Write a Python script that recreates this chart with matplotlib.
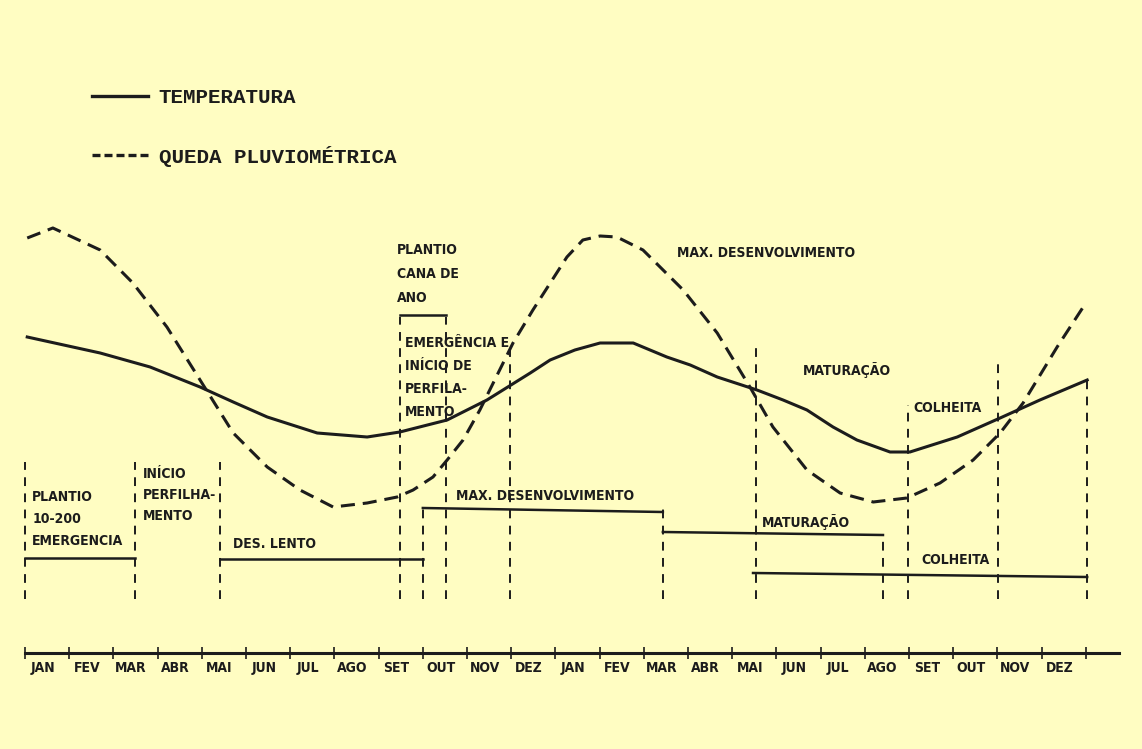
import matplotlib
matplotlib.use('Agg')
import matplotlib.pyplot as plt
from matplotlib.lines import Line2D
import numpy as np

# eixo dos meses (dois anos seguidos)
meses = ['JAN', 'FEV', 'MAR', 'ABR', 'MAI', 'JUN', 'JUL', 'AGO', 'SET', 'OUT', 'NOV', 'DEZ'] * 2

# temperatura (x em meses desde JAN, y em escala relativa)
temp_x = [0.05, 1.70, 2.83, 3.96, 4.71, 5.48, 6.61, 7.74, 8.48, 9.55, 10.45, 11.43, 11.88,
          12.44, 13.01, 13.76, 14.52, 15.05, 15.66, 16.56, 17.15, 17.69, 18.28, 18.82,
          19.57, 20.02, 21.09, 22.06, 22.96, 24.03]
temp_y = [41.2, 39.6, 38.2, 36.2, 34.7, 33.2, 31.6, 31.2, 31.7, 32.9, 34.9, 37.6, 38.9,
          39.9, 40.6, 40.6, 39.2, 38.4, 37.2, 35.9, 34.9, 33.9, 32.2, 30.9,
          29.7, 29.7, 31.2, 33.1, 34.9, 36.9]

# queda pluviometrica
chuva_x = [0.05, 0.63, 1.70, 2.44, 3.21, 3.96, 4.71, 5.48, 6.22, 6.97, 7.74, 8.42, 8.78,
           9.23, 9.55, 9.91, 10.29, 11.04, 11.49, 12.26, 12.62, 13.01, 13.39, 13.98, 14.89,
           15.66, 16.40, 16.92, 17.69, 18.44, 19.19, 19.95, 20.70, 21.45, 22.06, 22.58,
           23.35, 23.94]
chuva_y = [51.1, 52.1, 49.9, 46.6, 42.2, 36.9, 31.6, 28.2, 25.9, 24.2, 24.6, 25.2, 25.9,
           27.2, 28.9, 30.9, 33.9, 40.6, 43.9, 49.2, 50.9, 51.3, 51.2, 49.9, 45.9,
           41.6, 36.2, 32.2, 27.9, 25.6, 24.7, 25.1, 26.6, 28.9, 31.6, 34.6,
           40.2, 44.2]

# limites das fases (tracejados verticais)
fase_x = [0.0, 2.49, 4.41, 8.48, 9.00, 9.52, 10.97, 14.43, 16.54, 19.41, 19.98, 22.01, 24.03]
fase_topo = [28.7, 28.7, 28.7, 43.2, 24.1, 43.2, 40.6, 24.1, 40.1, 21.4, 34.4, 38.9, 36.9]
fase_base = 15.0

# duracao das fases (barras horizontais)
barra_ini = [0.0, 4.41, 8.48, 9.00, 14.43, 16.47]
barra_fim = [2.49, 9.00, 9.52, 14.43, 19.41, 24.03]
barra_y0 = [19.1, 19.0, 43.4, 24.1, 21.7, 17.6]
barra_y1 = [19.1, 19.0, 43.4, 23.7, 21.4, 17.2]

# textos: x, linha de base da 1a linha, passo entre linhas, linhas
textos = [
    (0.16, 24.8, 2.2, ['PLANTIO', '10-200', 'EMERGENCIA']),
    (2.67, 27.1, 2.1, ['INÍCIO', 'PERFILHA-', 'MENTO']),
    (4.71, 20.1, 0, ['DES. LENTO']),
    (8.42, 49.5, 2.4, ['PLANTIO', 'CANA DE', 'ANO']),
    (8.60, 40.2, 2.3, ['EMERGÊNCIA E', 'INÍCIO DE', 'PERFILA-', 'MENTO']),
    (14.75, 49.2, 0, ['MAX. DESENVOLVIMENTO']),
    (17.60, 37.4, 0, ['MATURAÇÃO']),
    (20.09, 33.7, 0, ['COLHEITA']),
    (9.75, 24.9, 0, ['MAX. DESENVOLVIMENTO']),
    (16.67, 22.2, 0, ['MATURAÇÃO']),
    (20.29, 18.5, 0, ['COLHEITA']),
]

fundo = '#fffdc2'
tinta = '#1c1c1c'
fonte = dict(family='DejaVu Sans', stretch='condensed', weight='bold', size=10)

fig = plt.figure(figsize=(11.42, 7.49), dpi=100, facecolor=fundo)
ax = fig.add_axes([0, 0, 1, 1], facecolor=fundo)
ax.set_xlim(-0.566, 25.27)
ax.set_ylim(0, 74.9)

ax.plot(temp_x, temp_y, color=tinta, lw=2.2, solid_joinstyle='round')
ax.plot(chuva_x, chuva_y, color=tinta, lw=2.2, dashes=(4.6, 2.6))

ax.vlines(fase_x, fase_base, fase_topo, colors=tinta, lw=1.4, linestyles=(0, (4.5, 3.8)))
for x0, x1, y0, y1 in zip(barra_ini, barra_fim, barra_y0, barra_y1):
    ax.plot([x0, x1], [y0, y1], color=tinta, lw=1.8)

for x, y, passo, linhas in textos:
    for i, t in enumerate(linhas):
        ax.text(x, y - i * passo, t, color=tinta, va='baseline', ha='left', **fonte)

# eixo dos meses
ax.spines[['left', 'top', 'right']].set_visible(False)
ax.spines['bottom'].set_position(('data', 9.6))
ax.spines['bottom'].set_bounds(0, 24.75)
ax.spines['bottom'].set_linewidth(2.2)
ax.spines['bottom'].set_color(tinta)
ax.set_yticks([])
ax.set_xticks(np.arange(25))
ax.set_xticklabels([])
ax.set_xticks(np.arange(24) + 0.4, minor=True)
ax.set_xticklabels(meses, minor=True, color=tinta, **fonte)
ax.tick_params(axis='x', which='major', direction='inout', length=9, width=1.2, color=tinta)
ax.tick_params(axis='x', which='minor', length=0, pad=5.5)

# legenda
leg_handles = [Line2D([], [], color=tinta, lw=2.4),
               Line2D([], [], color=tinta, lw=2.4, dashes=(2.4, 1.2))]
ax.legend(leg_handles, ['TEMPERATURA', 'QUEDA PLUVIOMÉTRICA'], loc='upper left',
          bbox_to_anchor=(92 / 1142, 1 - 88 / 749), frameon=False, borderpad=0,
          borderaxespad=0, handlelength=2.7, handletextpad=0.5, labelspacing=1.85,
          labelcolor=tinta, prop=dict(family='Liberation Mono', weight='bold', size=15))

fig.savefig('out.png', dpi=100, facecolor=fundo)
